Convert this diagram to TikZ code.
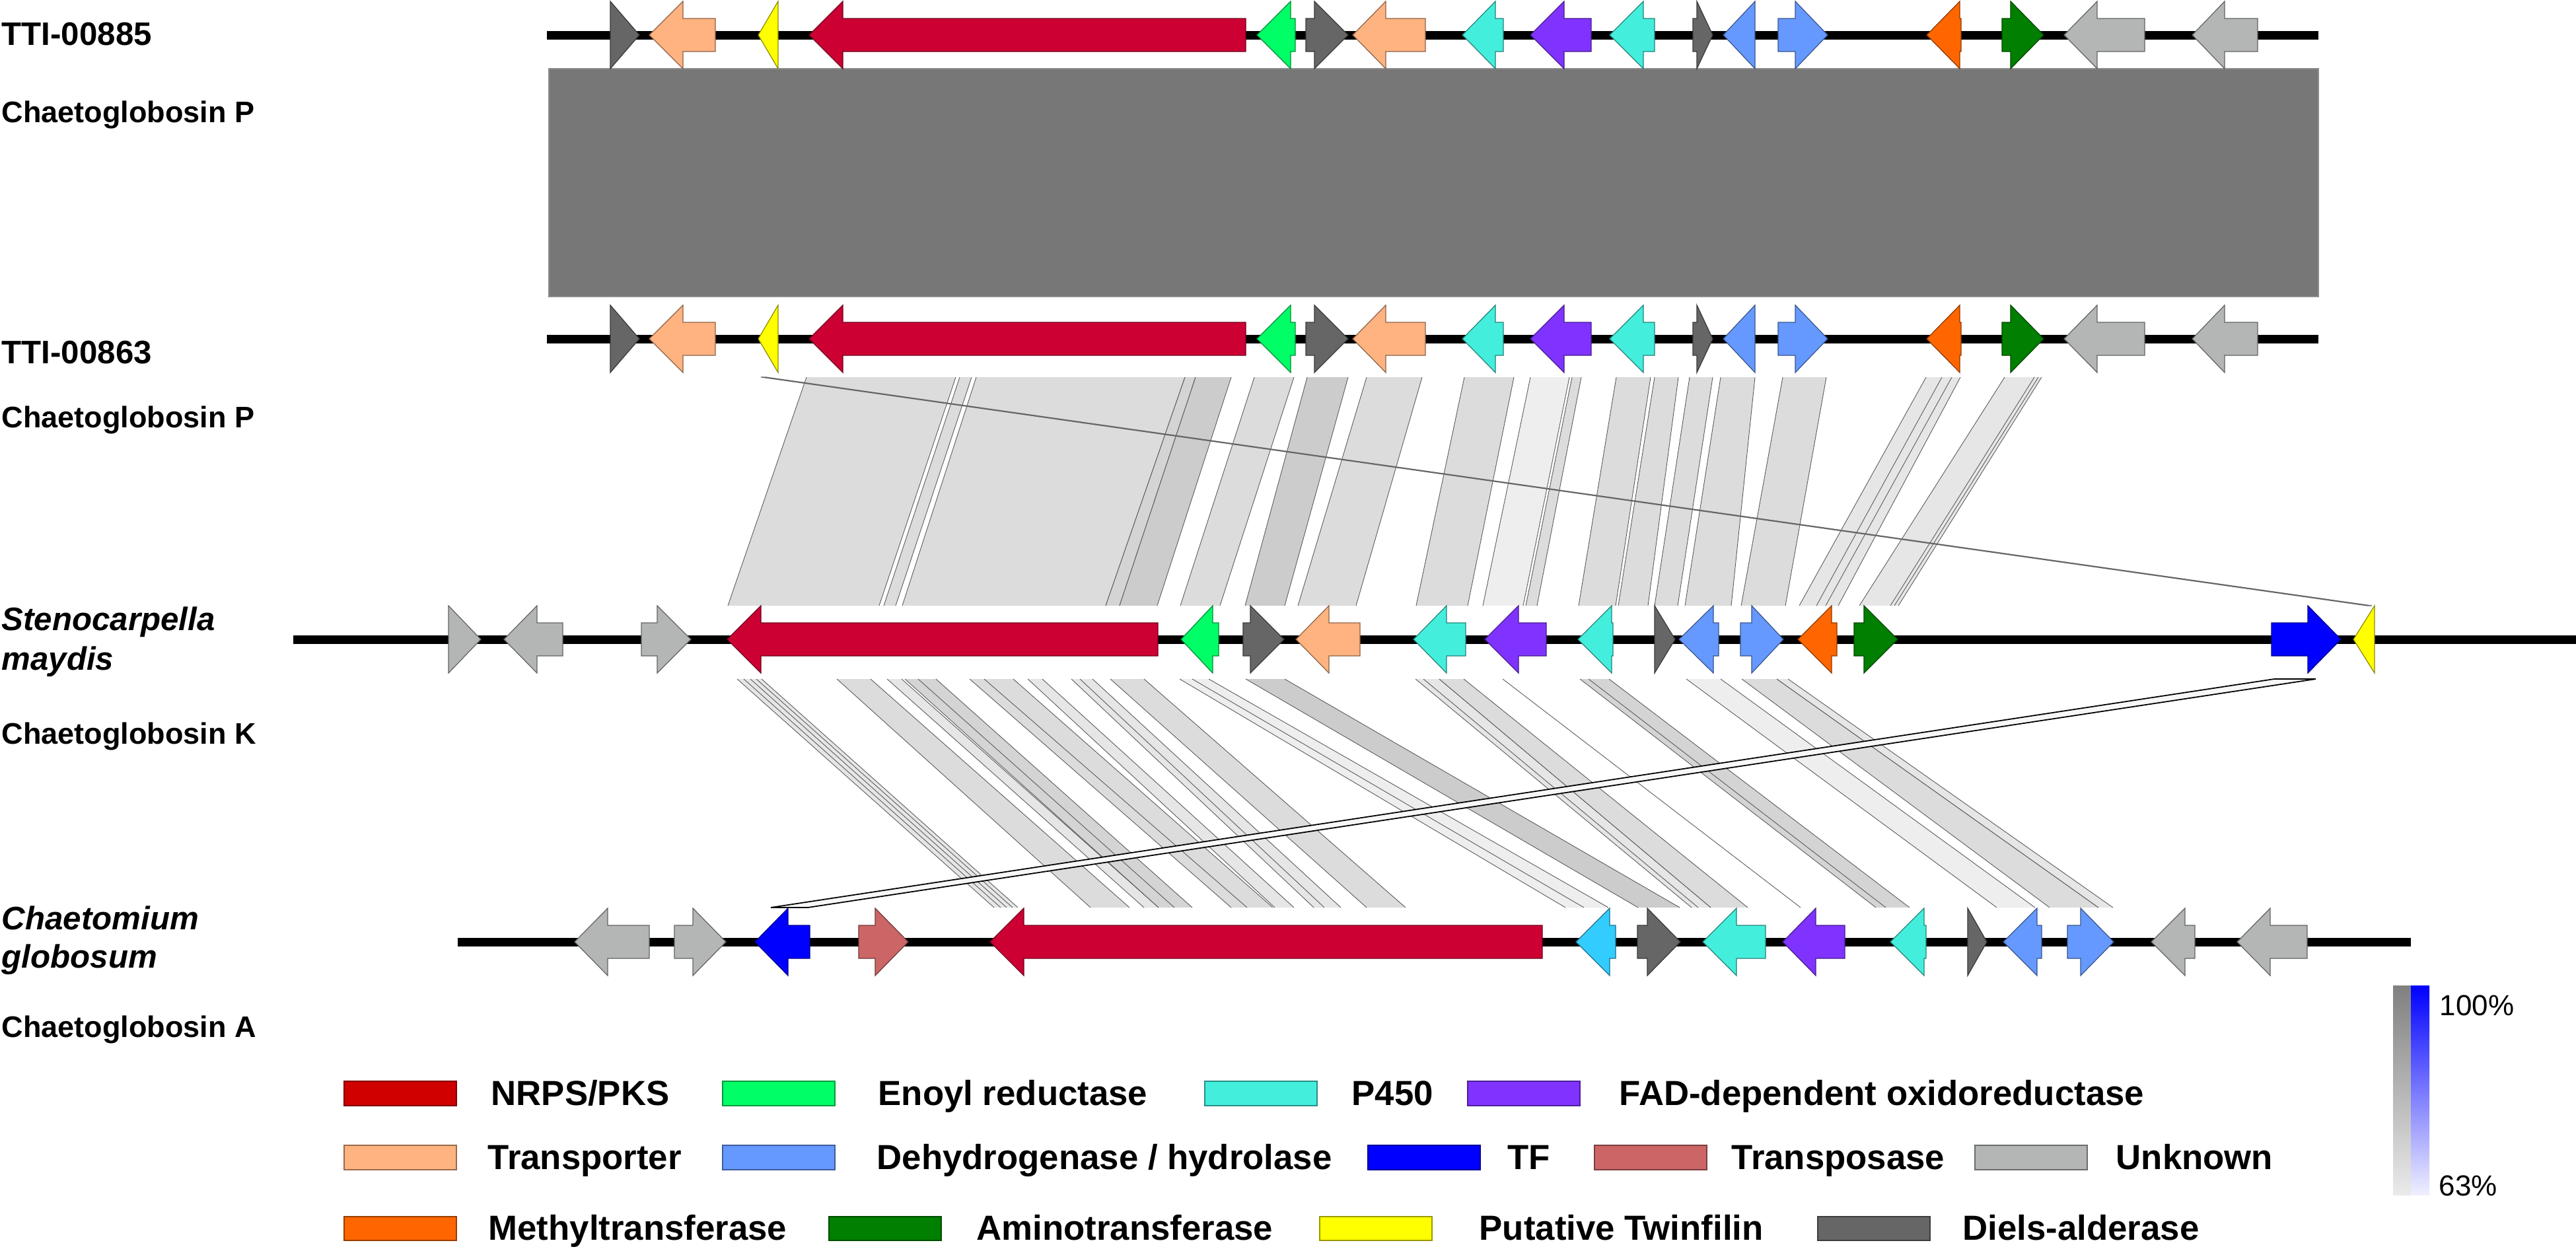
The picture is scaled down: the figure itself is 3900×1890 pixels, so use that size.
\documentclass[tikz,border=0pt]{standalone}
\usepackage{fontspec}
\setmainfont{Liberation Sans}
\definecolor{cNRPS}{HTML}{CC0033}
\definecolor{cNRPSleg}{HTML}{D00000}
\definecolor{cER}{HTML}{00FF66}
\definecolor{cP450}{HTML}{44EEDD}
\definecolor{cFAD}{HTML}{8033FF}
\definecolor{cTR}{HTML}{FFB380}
\definecolor{cDH}{HTML}{6699FF}
\definecolor{cTF}{HTML}{0000FF}
\definecolor{cTP}{HTML}{CC6666}
\definecolor{cUN}{HTML}{B3B6B4}
\definecolor{cMT}{HTML}{FF6600}
\definecolor{cAT}{HTML}{007F00}
\definecolor{cTW}{HTML}{FFFF00}
\definecolor{cDA}{HTML}{666666}
\definecolor{cLB}{HTML}{33CCFF}
\definecolor{cBlock}{HTML}{777777}
\definecolor{lkA}{HTML}{DCDCDC}
\definecolor{lkB}{HTML}{CCCCCC}
\definecolor{lkC}{HTML}{EEEEEE}
\definecolor{lkD}{HTML}{E6E6E6}
\definecolor{lkE}{HTML}{D4D4D4}
% gene arrow: tail x, head-base x, tip x, y centre, colour
\newcommand\gene[5]{%
  \filldraw[fill=#5, draw=#5!55!black, line width=0.35pt]
    (#1,#4-25) -- (#2,#4-25) -- (#2,#4-51) -- (#3,#4) -- (#2,#4+51) -- (#2,#4+25) -- (#1,#4+25) -- cycle;}
% link: top x1, top x2, bottom x1, bottom x2, ytop, ybottom, fill
\newcommand\lnk[7]{%
  \fill[#7] (#1,#5) -- (#2,#5) -- (#4,#6) -- (#3,#6) -- cycle;
  \draw[linkedge] (#1,#5) -- (#3,#6) (#2,#5) -- (#4,#6);}
\newcommand\lnkA[5]{\lnk{#1}{#2}{#3}{#4}{571}{917}{#5}}
\newcommand\lnkB[5]{\lnk{#1}{#2}{#3}{#4}{1028}{1374}{#5}}
\newcommand\legbox[4]{%
  \filldraw[fill=#1, draw=#1!60!black, line width=0.4pt] (#2,#3) rectangle ++(170,#4);}
\begin{document}
\begin{tikzpicture}[x=0.01cm, y=-0.01cm,
  linkedge/.style={draw=black!65, line width=0.25pt},
  backbone/.style={line width=0.13cm, black},
  lblbig/.style={anchor=base west, inner sep=0pt, font=\fontsize{14pt}{16pt}\selectfont\bfseries},
  lblsmall/.style={anchor=base west, inner sep=0pt, font=\fontsize{12.8pt}{15pt}\selectfont\bfseries},
  legtext/.style={anchor=base west, inner sep=0pt, font=\fontsize{15pt}{17pt}\selectfont\bfseries},
  scaletext/.style={anchor=base west, inner sep=0pt, font=\fontsize{12.5pt}{15pt}\selectfont}]
\useasboundingbox (0,0) rectangle (3900,1890);

% ---------- left labels ----------
\node[lblbig] (l1) at (2,68) {TTI-00885};
\node[lblsmall] (l2) at (2,185) {Chaetoglobosin P};
\node[lblbig] (l3) at (2,550) {TTI-00863};
\node[lblsmall] (l4) at (2,647) {Chaetoglobosin P};
\node[lblbig] (l5) at (2,954) {\itshape Stenocarpella};
\node[lblbig] (l6) at (2,1014) {\itshape maydis};
\node[lblsmall] (l7) at (2,1126) {Chaetoglobosin K};
\node[lblbig] (l8) at (2,1407) {\itshape Chaetomium};
\node[lblbig] (l9) at (2,1465) {\itshape globosum};
\node[lblsmall] (l10) at (2,1570) {Chaetoglobosin A};

% ---------- identity block row1-row2 ----------
\filldraw[fill=cBlock, draw=black!45, line width=0.4pt] (831,104) rectangle (3510,449);

% ---------- links row2 -> row3 ----------
\lnkA{1221}{1447}{1102}{1331}{lkA}
\lnkA{1453}{1471}{1338}{1356}{lkA}
\lnkA{1478}{1794}{1366}{1674}{lkA}
\lnkA{1794}{1810}{1674}{1695}{lkE}
\lnkA{1810}{1864}{1695}{1752}{lkB}
\lnkA{1899}{1959}{1787}{1847}{lkA}
\lnkA{1979}{2041}{1885}{1945}{lkB}
\lnkA{2069}{2153}{1965}{2053}{lkA}
\lnkA{2217}{2292}{2144}{2222}{lkA}
\lnkA{2317}{2376}{2245}{2306}{lkC}
\lnkA{2380}{2394}{2310}{2327}{lkA}
\lnkA{2447}{2499}{2390}{2446}{lkA}
\lnkA{2505}{2541}{2450}{2495}{lkA}
\lnkA{2558}{2593}{2505}{2540}{lkA}
\lnkA{2605}{2657}{2551}{2621}{lkA}
\lnkA{2699}{2765}{2636}{2703}{lkA}
\lnkA{2916}{2968}{2724}{2783}{lkD}
\draw[linkedge] (2940,571) -- (2750,917) (2955,571) -- (2764,917);
\lnkA{3035}{3091}{2815}{2874}{lkD}
\draw[linkedge] (3080,571) -- (2862,917) (3086,571) -- (2868,917);
% twinfilin link
\filldraw[fill=black!35, draw=black!60, line width=0.3pt] (1152,571) -- (1160,571) -- (3591,917) -- (3583,917) -- cycle;

% ---------- links row3 -> row4 ----------
\lnkB{1116}{1153}{1505}{1541}{lkD}
\draw[linkedge] (1126,1028) -- (1515,1374) (1136,1028) -- (1524,1374) (1145,1028) -- (1533,1374);
\lnkB{1267}{1318}{1651}{1710}{lkA}
\lnkB{1343}{1365}{1732}{1754}{lkD}
\lnkB{1370}{1417}{1754}{1805}{lkE}
\draw[linkedge] (1390,1028) -- (1778,1374);
\lnkB{1468}{1534}{1864}{1927}{lkA}
\draw[linkedge] (1490,1028) -- (1888,1374);
\lnkB{1556}{1578}{1930}{1959}{lkD}
\lnkB{1622}{1654}{1989}{2030}{lkD}
\draw[linkedge] (1635,1028) -- (2005,1374);
\lnkB{1681}{1732}{2069}{2128}{lkA}
\lnkB{1786}{1830}{2370}{2435}{lkC}
\draw[linkedge] (1805,1028) -- (2398,1374);
\lnkB{1886}{1945}{2480}{2543}{lkB}
\lnkB{2143}{2179}{2561}{2590}{lkD}
\draw[linkedge] (2155,1028) -- (2571,1374);
\lnkB{2179}{2216}{2590}{2646}{lkA}
\draw[linkedge] (2275,1028) -- (2726,1374);
\lnkB{2392}{2436}{2840}{2891}{lkE}
\draw[linkedge] (2405,1028) -- (2855,1374);
\lnkB{2553}{2605}{3023}{3081}{lkC}
\lnkB{2637}{2690}{3103}{3177}{lkA}
\lnkB{2690}{2707}{3177}{3199}{lkD}
% TF link
\filldraw[fill=black!3, draw=black, line width=0.5pt] (3443,1028) -- (3506,1028) -- (1223,1374) -- (1167,1374) -- cycle;

% ---------- backbones ----------
\draw[backbone] (828,53) -- (3510,53);
\draw[backbone] (828,513) -- (3510,513);
\draw[backbone] (444,968) -- (3900,968);
\draw[backbone] (693,1426) -- (3650,1426);

% ---------- genes row 1 and row 2 ----------
\foreach \yy in {53,513}{
  \gene{924}{924}{968}{\yy}{cDA}
  \gene{1083}{1034}{983}{\yy}{cTR}
  \gene{1178}{1178}{1148}{\yy}{cTW}
  \gene{1886}{1276}{1225}{\yy}{cNRPS}
  \gene{1961}{1954}{1903}{\yy}{cER}
  \gene{1977}{1990}{2041}{\yy}{cDA}
  \gene{2158}{2098}{2048}{\yy}{cTR}
  \gene{2276}{2264}{2214}{\yy}{cP450}
  \gene{2409}{2368}{2317}{\yy}{cFAD}
  \gene{2505}{2488}{2437}{\yy}{cP450}
  \gene{2563}{2569}{2593}{\yy}{cDA}
  \gene{2657}{2657}{2609}{\yy}{cDH}
  \gene{2692}{2718}{2767}{\yy}{cDH}
  \gene{2969}{2967}{2917}{\yy}{cMT}
  \gene{3031}{3044}{3094}{\yy}{cAT}
  \gene{3247}{3175}{3125}{\yy}{cUN}
  \gene{3418}{3368}{3319}{\yy}{cUN}
}

% ---------- genes row 3 ----------
\gene{679}{679}{728}{968}{cUN}
\gene{852}{813}{763}{968}{cUN}
\gene{971}{995}{1046}{968}{cUN}
\gene{1753}{1152}{1101}{968}{cNRPS}
\gene{1845}{1836}{1788}{968}{cER}
\gene{1882}{1893}{1944}{968}{cDA}
\gene{2059}{2012}{1962}{968}{cTR}
\gene{2219}{2190}{2140}{968}{cP450}
\gene{2341}{2299}{2248}{968}{cFAD}
\gene{2442}{2440}{2389}{968}{cP450}
\gene{2505}{2505}{2536}{968}{cDA}
\gene{2602}{2594}{2542}{968}{cDH}
\gene{2635}{2652}{2700}{968}{cDH}
\gene{2781}{2773}{2722}{968}{cMT}
\gene{2807}{2822}{2873}{968}{cAT}
\gene{3439}{3494}{3544}{968}{cTF}
\gene{3595}{3595}{3563}{968}{cTW}

% ---------- genes row 4 ----------
\gene{983}{920}{870}{1426}{cUN}
\gene{1021}{1049}{1099}{1426}{cUN}
\gene{1226}{1193}{1143}{1426}{cTF}
\gene{1300}{1325}{1375}{1426}{cTP}
\gene{2335}{1550}{1499}{1426}{cNRPS}
\gene{2446}{2437}{2386}{1426}{cLB}
\gene{2479}{2494}{2544}{1426}{cDA}
\gene{2673}{2629}{2578}{1426}{cP450}
\gene{2793}{2749}{2699}{1426}{cFAD}
\gene{2916}{2913}{2862}{1426}{cP450}
\gene{2979}{2979}{3008}{1426}{cDA}
\gene{3091}{3084}{3033}{1426}{cDH}
\gene{3130}{3150}{3200}{1426}{cDH}
\gene{3323}{3308}{3257}{1426}{cUN}
\gene{3493}{3437}{3387}{1426}{cUN}

% ---------- legend ----------
\legbox{cNRPSleg}{521}{1637}{37}
\node[legtext] (g1) at (743,1673) {NRPS/PKS};
\legbox{cER}{1094}{1637}{37}
\node[legtext] (g2) at (1329,1673) {Enoyl reductase};
\legbox{cP450}{1824}{1637}{37}
\node[legtext] (g3) at (2046,1673) {P450};
\legbox{cFAD}{2222}{1637}{37}
\node[legtext] (g4) at (2451,1673) {FAD-dependent oxidoreductase};

\legbox{cTR}{521}{1734}{37}
\node[legtext] (g5) at (738,1770) {Transporter};
\legbox{cDH}{1094}{1734}{37}
\node[legtext] (g6) at (1327,1770) {Dehydrogenase / hydrolase};
\legbox{cTF}{2071}{1734}{37}
\node[legtext] (g7) at (2282,1770) {TF};
\legbox{cTP}{2414}{1734}{37}
\node[legtext] (g8) at (2621,1770) {Transposase};
\legbox{cUN}{2990}{1734}{37}
\node[legtext] (g9) at (3203,1770) {Unknown};

\legbox{cMT}{521}{1842}{36}
\node[legtext] (g10) at (739,1877) {Methyltransferase};
\legbox{cAT}{1255}{1842}{36}
\node[legtext] (g11) at (1478,1877) {Aminotransferase};
\legbox{cTW}{1998}{1842}{36}
\node[legtext] (g12) at (2239,1877) {Putative Twinfilin};
\legbox{cDA}{2752}{1842}{36}
\node[legtext] (g13) at (2971,1877) {Diels-alderase};

% ---------- identity scale ----------
\shade[top color=black!50, bottom color=black!8] (3623,1492) rectangle (3650,1809);
\shade[top color=blue, bottom color=blue!6] (3650,1492) rectangle (3678,1809);
\node[scaletext] (s1) at (3693,1537) {100\%};
\node[scaletext] (s2) at (3692,1810) {63\%};
\end{tikzpicture}
\end{document}
